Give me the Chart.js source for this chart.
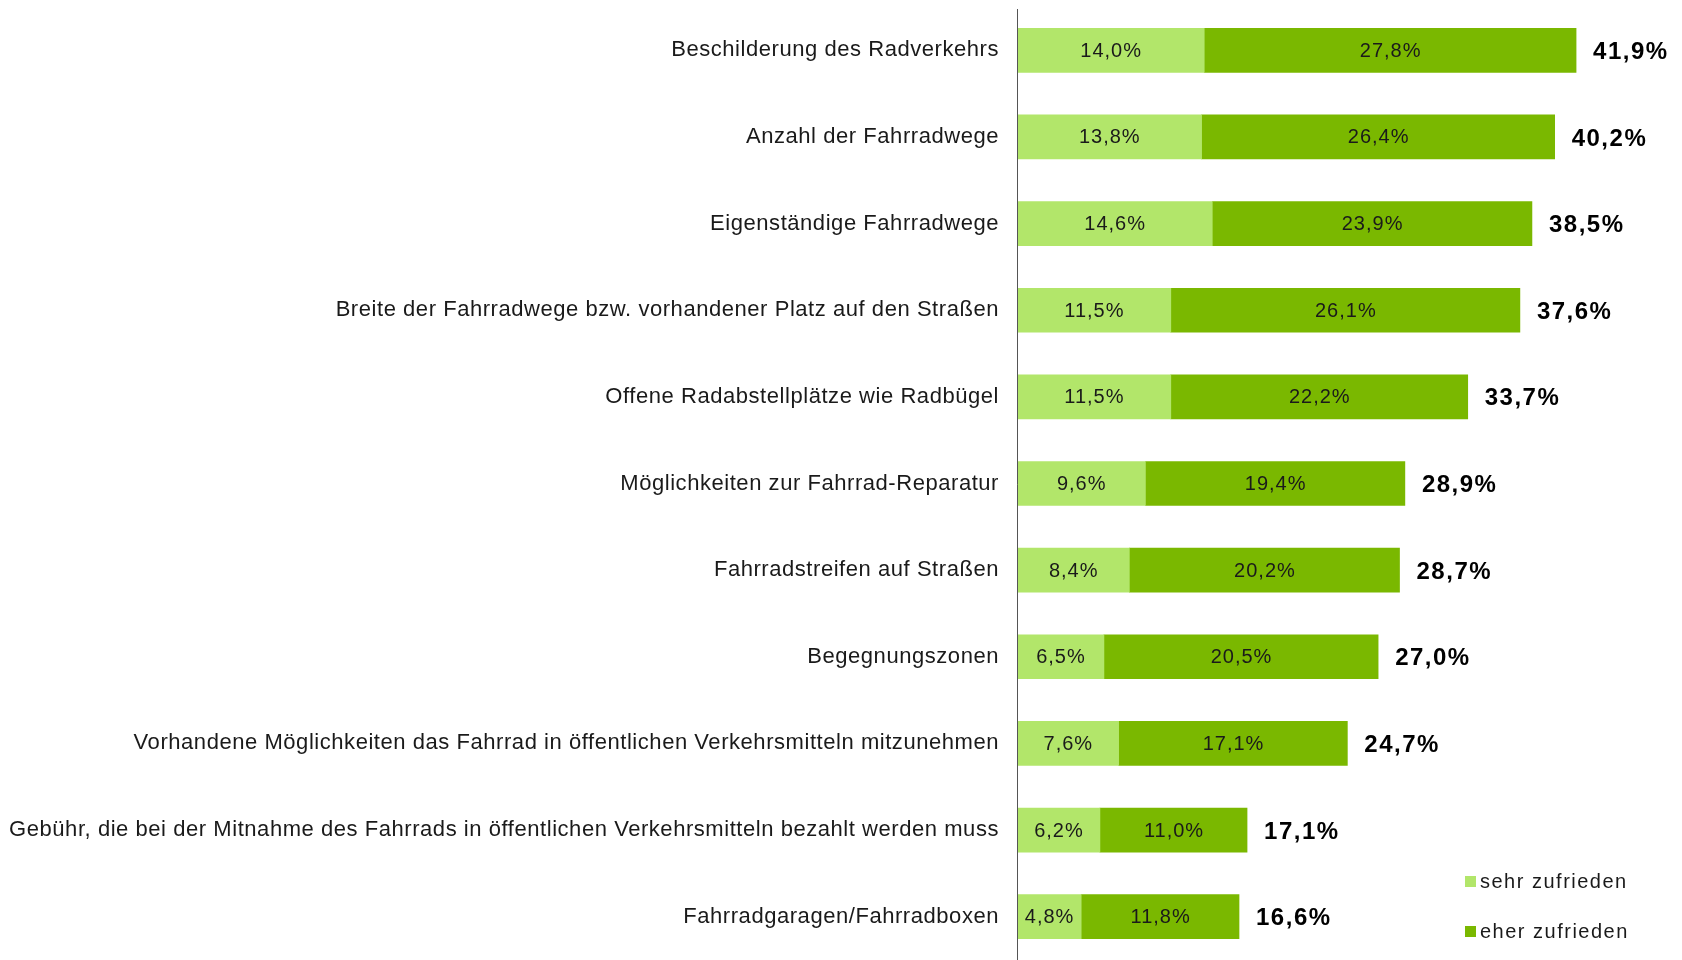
<!DOCTYPE html>
<html>
<head>
<meta charset="utf-8">
<script src="https://cdn.jsdelivr.net/npm/chart.js@4"></script>
<style>
  html, body { margin: 0; padding: 0; background: #fff; }
  #wrap { width: 1682px; height: 960px; }
</style>
</head>
<body>
<div id="wrap"><canvas id="chart" width="1682" height="960"></canvas></div>
<script>
// Kategorien und Werte (Anteile in %)
const categories = [
    'Beschilderung des Radverkehrs',
    'Anzahl der Fahrradwege',
    'Eigenständige Fahrradwege',
    'Breite der Fahrradwege bzw. vorhandener Platz auf den Straßen',
    'Offene Radabstellplätze wie Radbügel',
    'Möglichkeiten zur Fahrrad-Reparatur',
    'Fahrradstreifen auf Straßen',
    'Begegnungszonen',
    'Vorhandene Möglichkeiten das Fahrrad in öffentlichen Verkehrsmitteln mitzunehmen',
    'Gebühr, die bei der Mitnahme des Fahrrads in öffentlichen Verkehrsmitteln bezahlt werden muss',
    'Fahrradgaragen/Fahrradboxen',
];
const sehrZufrieden = [14.0, 13.8, 14.6, 11.5, 11.5, 9.6, 8.4, 6.5, 7.6, 6.2, 4.8];
const eherZufrieden = [27.8, 26.4, 23.9, 26.1, 22.2, 19.4, 20.2, 20.5, 17.1, 11.0, 11.8];
const totals = [41.9, 40.2, 38.5, 37.6, 33.7, 28.9, 28.7, 27.0, 24.7, 17.1, 16.6];

const fmt = v => v.toFixed(1).replace('.', ',') + '%';
const FONT = '"Liberation Sans", Arial, sans-serif';

// etwas gesperrte Schrift wie im Original
const spacingPlugin = {
    id: 'spacing',
    beforeDraw(chart) {
        chart.ctx.letterSpacing = '0.55px';
    }
};

// Werte in den Balken + Summen rechts daneben
const labelPlugin = {
    id: 'barLabels',
    afterDatasetsDraw(chart) {
        const ctx = chart.ctx;
        ctx.save();
        ctx.textBaseline = 'middle';
        ctx.fillStyle = '#1a1a1a';
        ctx.font = '20px ' + FONT;
        ctx.letterSpacing = '1px';
        ctx.textAlign = 'center';
        chart.data.datasets.forEach((ds, i) => {
            chart.getDatasetMeta(i).data.forEach((bar, j) => {
                ctx.fillText(fmt(ds.data[j]), (bar.base + bar.x) / 2 + 0.5, bar.y + 1);
            });
        });
        const last = chart.getDatasetMeta(chart.data.datasets.length - 1).data;
        ctx.font = 'bold 24px ' + FONT;
        ctx.letterSpacing = '1.5px';
        ctx.fillStyle = '#000';
        ctx.textAlign = 'left';
        last.forEach((bar, j) => {
            ctx.fillText(fmt(totals[j]), bar.x + 17, bar.y + 2);
        });
        ctx.restore();
    }
};

// Legende unten rechts
const legendPlugin = {
    id: 'cornerLegend',
    afterDraw(chart) {
        const ctx = chart.ctx;
        ctx.save();
        ctx.font = '20px ' + FONT;
        ctx.letterSpacing = '1.5px';
        ctx.textBaseline = 'middle';
        ctx.textAlign = 'left';
        chart.data.datasets.forEach((ds, i) => {
            const y = 882 + i * 50;
            ctx.fillStyle = ds.backgroundColor;
            ctx.fillRect(1465, y - 6, 11, 11);
            ctx.fillStyle = '#1a1a1a';
            ctx.fillText(ds.label, 1480, y);
        });
        ctx.restore();
    }
};

// senkrechte Achsenlinie
const axisLinePlugin = {
    id: 'axisLine',
    afterDraw(chart) {
        const ctx = chart.ctx;
        const x = chart.chartArea.left;
        ctx.save();
        ctx.strokeStyle = '#555';
        ctx.lineWidth = 1;
        ctx.beginPath();
        ctx.moveTo(x + 0.5, 9);
        ctx.lineTo(x + 0.5, 960);
        ctx.stroke();
        ctx.restore();
    }
};

new Chart(document.getElementById('chart'), {
    type: 'bar',
    data: {
        labels: categories,
        datasets: [
            {
                label: 'sehr zufrieden',
                data: sehrZufrieden,
                backgroundColor: '#b2e66a',
            },
            {
                label: 'eher zufrieden',
                data: eherZufrieden,
                backgroundColor: '#7ab800',
            },
        ],
    },
    options: {
        indexAxis: 'y',
        responsive: false,
        animation: false,
        layout: { padding: { top: 7, left: 0, right: 23, bottom: -2 } },
        datasets: {
            bar: { barThickness: 44, borderWidth: 0 },
        },
        scales: {
            x: {
                stacked: true,
                display: false,
                min: 0,
                max: 48,
            },
            y: {
                stacked: true,
                grid: { display: false },
                border: { display: false },
                ticks: {
                    color: '#1a1a1a',
                    font: { family: FONT, size: 22 },
                    padding: 10,
                },
                afterFit(scale) {
                    scale.width = 1017;
                    scale.paddingTop = 0;
                    scale.paddingBottom = 0;
                },
            },
        },
        plugins: {
            legend: { display: false },
            tooltip: { enabled: false },
        },
    },
    plugins: [spacingPlugin, labelPlugin, legendPlugin, axisLinePlugin],
});
</script>
</body>
</html>
